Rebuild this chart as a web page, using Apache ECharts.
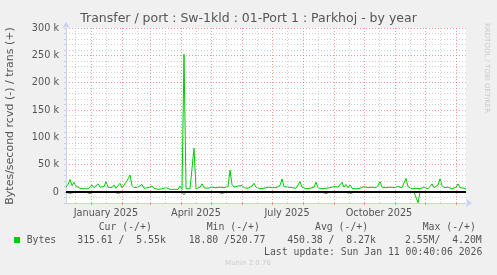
<!DOCTYPE html>
<html><head><meta charset="utf-8">
<script src="https://cdn.jsdelivr.net/npm/echarts@6/dist/echarts.min.js"></script>
<style>html,body{margin:0;padding:0;background:#f0f0f0}#c{width:497px;height:275px}</style>
</head><body><div id="c"></div>
<script>
// ---------- data ----------
const chartTitle = 'Transfer / port : Sw-1kld : 01-Port 1 : Parkhoj - by year';
const yAxisTitle = 'Bytes/second rcvd (-) / trans (+)';
const startTime = '2024-12-07T00:40:00';
const endTime = '2026-01-11T00:40:00';
const stepDays = 2;
// trans (+), kB/s, one value per 2 days
const transK = [
 9,14,23,12,18,11,9,7,8,6,7,6,8,13,8,7,15,9,7,10,
 19,9,7,8,13,7,9,16,8,10,18,24,31,12,8,7,9,8,14,7,
 6,8,6,11,7,6,5,7,6,5,8,6,5,6,5,7,5,11,5,252,
 6,5,6,7,80,6,7,9,15,8,6,7,6,9,7,8,6,9,7,8,
 6,10,40,14,9,8,11,9,12,8,10,7,9,11,16,9,7,6,8,7,
 6,9,7,8,6,8,7,12,24,10,8,9,7,8,6,7,10,19,9,7,
 6,8,7,6,9,18,8,7,6,8,7,9,8,7,10,8,9,7,18,9,
 14,8,13,7,9,6,8,7,6,10,7,8,6,9,7,8,12,19,9,7,
 8,6,9,7,8,6,10,7,8,11,25,10,8,6,9,7,8,6,7,9,
 8,6,10,15,8,9,13,24,12,8,7,9,8,6,7,9,15,8,6,7,
 5.55
];
// rcvd (-), kB/s, one value per 2 days
const rcvdK = [
 0.4,0.3,2.5,0.3,0.5,0.3,0.2,0.3,0.3,0.2,0.3,0.3,2.8,0.3,0.2,0.3,0.4,0.3,0.2,2.6,
 0.3,0.3,0.2,0.3,0.3,0.2,2.4,0.3,0.3,0.2,0.3,0.4,0.3,2.7,0.3,2.5,0.3,0.2,0.3,0.3,
 0.2,0.3,0.3,0.2,0.3,0.3,0.2,0.3,0.3,0.2,0.3,0.3,0.2,0.3,0.3,0.2,0.3,0.3,0.4,5.0,
 0.3,0.3,0.2,0.3,0.4,0.3,0.2,0.3,0.3,2.6,0.3,0.2,0.3,0.3,0.2,0.3,0.3,0.2,2.4,0.3,
 0.3,0.2,0.3,0.3,0.2,0.3,0.3,0.2,0.3,0.3,0.2,0.3,0.3,0.2,0.3,0.3,0.2,0.3,0.3,0.2,
 0.3,0.3,0.2,0.3,0.3,0.2,0.3,0.3,0.2,0.3,0.3,0.2,0.3,2.5,0.3,0.2,0.3,0.3,0.2,0.3,
 0.3,0.2,0.3,0.3,0.2,0.3,0.3,0.2,0.3,0.3,2.8,0.3,0.2,0.3,0.3,0.2,0.3,0.3,0.2,0.3,
 0.3,0.2,3.0,0.3,0.3,3.5,0.3,0.2,0.3,0.3,0.2,0.3,0.3,0.2,0.3,0.3,0.2,0.3,0.3,0.2,
 0.3,0.3,0.2,0.3,0.3,0.2,0.3,2.6,0.3,0.2,0.3,0.3,0.2,0.3,0.3,0.2,19.5,0.3,0.3,0.2,
 0.3,0.3,0.2,0.3,0.3,0.2,0.3,0.3,0.2,0.3,0.3,0.2,0.3,0.3,0.2,0.3,0.3,0.2,0.3,0.3,
 0.32
];
const monthStarts = ['2025-01-01','2025-02-01','2025-03-01','2025-04-01','2025-05-01','2025-06-01',
  '2025-07-01','2025-08-01','2025-09-01','2025-10-01','2025-11-01','2025-12-01','2026-01-01'];
const midMonths = ['2024-12-16','2025-01-16','2025-02-16','2025-03-16','2025-04-16','2025-05-16','2025-06-16',
  '2025-07-16','2025-08-16','2025-09-16','2025-10-16','2025-11-16','2025-12-16'];
const quarterLabels = ['January 2025','April 2025','July 2025','October 2025'];
const quarterLabelPos = ['2025-01-16','2025-04-16','2025-07-16','2025-10-16'];
const yMajorTicks = [0,50000,100000,150000,200000,250000,300000];
const legendHeaders = ['Cur (-/+)','Min (-/+)','Avg (-/+)','Max (-/+)'];
const legendSeriesName = 'Bytes';
const legendValues = ['315.61 /  5.55k','18.80 /520.77','450.38 /  8.27k','2.55M/  4.20M'];
const lastUpdate = 'Last update: Sun Jan 11 00:40:06 2026';
const muninVersion = 'Munin 2.0.76';
const rrdCredit = 'RRDTOOL / TOBI OETIKER';

// ---------- build ----------
const t0 = new Date(startTime).getTime();
const t1 = new Date(endTime).getTime();
const DAY = 86400000;
const ts = (s) => new Date(s + 'T00:00:00').getTime();
const transData = transK.map((v, i) => [Math.min(t0 + i * stepDays * DAY, t1), v * 1000]);
const rcvdData = rcvdK.map((v, i) => [Math.min(t0 + i * stepDays * DAY, t1), -v * 1000]);
const monthTs = monthStarts.map(ts);
const minorTs = midMonths.map(ts);
const quarterTs = quarterLabelPos.map(ts);

const GREEN = '#00cc00';
const MAJ = 'rgba(240,120,120,0.75)';
const MIN = '#cfcfcf';
const AXIS = '#c8d0f4';
const TXT = '#555555';
const F = 'DejaVu Sans';
const FM = 'DejaVu Sans Mono';

const chart = echarts.init(document.getElementById('c'), null, {renderer: 'canvas'});
const grid = {left: 66, right: 31, top: 28, bottom: 72, outerBoundsMode: 'none', containLabel: false};

const legendX = [98.7, 206.7, 315, 422.7];
const valueX = [77.3, 188.7, 287.3, 405];
const graphics = [
  {type: 'text', left: 'center', top: 12, style: {text: chartTitle, font: '12.5px ' + F, fill: TXT}},
  {type: 'text', x: 10, y: 116, rotation: Math.PI / 2, style: {text: yAxisTitle, font: '11px ' + F, fill: TXT, align: 'center', verticalAlign: 'middle'}},
  {type: 'text', x: 487, y: 23, rotation: -Math.PI / 2, style: {text: rrdCredit, font: '7px ' + F, fill: '#cccccc', align: 'left', verticalAlign: 'middle'}},
  {type: 'rect', shape: {x: 14, y: 237, width: 6, height: 6}, style: {fill: GREEN}},
  {type: 'text', x: 26.7, y: 240, style: {text: legendSeriesName, font: '9.8px ' + FM, fill: TXT, verticalAlign: 'middle'}},
  {type: 'text', x: 482.3, y: 252, style: {text: lastUpdate, font: '9.8px ' + FM, fill: TXT, align: 'right', verticalAlign: 'middle'}},
  {type: 'text', x: 248, y: 263, style: {text: muninVersion, font: '7px ' + F, fill: '#cccccc', align: 'center', verticalAlign: 'middle'}}
];
legendHeaders.forEach((h, i) => graphics.push({type: 'text', x: legendX[i], y: 227.5, style: {text: h, font: '9.8px ' + FM, fill: TXT, verticalAlign: 'middle'}}));
legendValues.forEach((h, i) => graphics.push({type: 'text', x: valueX[i], y: 240, style: {text: h, font: '9.8px ' + FM, fill: TXT, verticalAlign: 'middle'}}));

const vline = (arr, color) => arr.map(t => ({xAxis: t, lineStyle: {color: color, type: [1, 2], width: 1}}));

chart.setOption({
  animation: false,
  backgroundColor: '#f0f0f0',
  grid: Object.assign({show: true, backgroundColor: '#ffffff', borderWidth: 0}, grid),
  xAxis: {
    type: 'value', min: t0, max: t1, scale: true,
    axisLine: {show: true, onZero: false, lineStyle: {color: AXIS, width: 1}, symbol: ['none', 'arrow'], symbolSize: [6, 6], symbolOffset: [0, 6]},
    axisTick: {show: true, customValues: monthTs, length: 2, lineStyle: {color: MAJ}},
    axisLabel: {customValues: quarterTs, formatter: (v) => { const i = quarterTs.indexOf(v); return i >= 0 ? quarterLabels[i] : ''; },
      color: TXT, fontFamily: F, fontSize: 9.7, margin: 5},
    splitLine: {show: false}
  },
  yAxis: {
    type: 'value', min: -20000, max: 300000, interval: 10000,
    axisLine: {show: true, lineStyle: {color: AXIS, width: 1}, symbol: ['none', 'arrow'], symbolSize: [6, 6], symbolOffset: [0, 6]},
    axisTick: {show: true, length: 2, lineStyle: {color: MIN}},
    axisLabel: {formatter: (v) => yMajorTicks.includes(v) ? (v === 0 ? '0' : (v / 1000) + ' k') : '',
      color: TXT, fontFamily: F, fontSize: 9.7, margin: 7, showMinLabel: true, showMaxLabel: true},
    splitLine: {show: true, lineStyle: {color: [MIN, MIN, MAJ, MIN, MIN], type: [1, 2], width: 1}}
  },
  series: [
    {type: 'line', data: [], z: 1, silent: true,
      markLine: {silent: true, symbol: ['none', 'none'], label: {show: false}, animation: false,
        data: vline(minorTs, MIN).concat(vline(monthTs, MAJ))}},
    {type: 'line', data: transData, z: 3, showSymbol: false, symbol: 'none', lineStyle: {color: GREEN, width: 1}, silent: true},
    {type: 'line', data: rcvdData, z: 3, showSymbol: false, symbol: 'none', lineStyle: {color: GREEN, width: 1}, silent: true,
      markLine: {silent: true, symbol: ['none', 'none'], label: {show: false}, animation: false,
        data: [{yAxis: 0, lineStyle: {color: '#000000', type: 'solid', width: 2}}]}}
  ],
  graphic: graphics
});
</script></body></html>
